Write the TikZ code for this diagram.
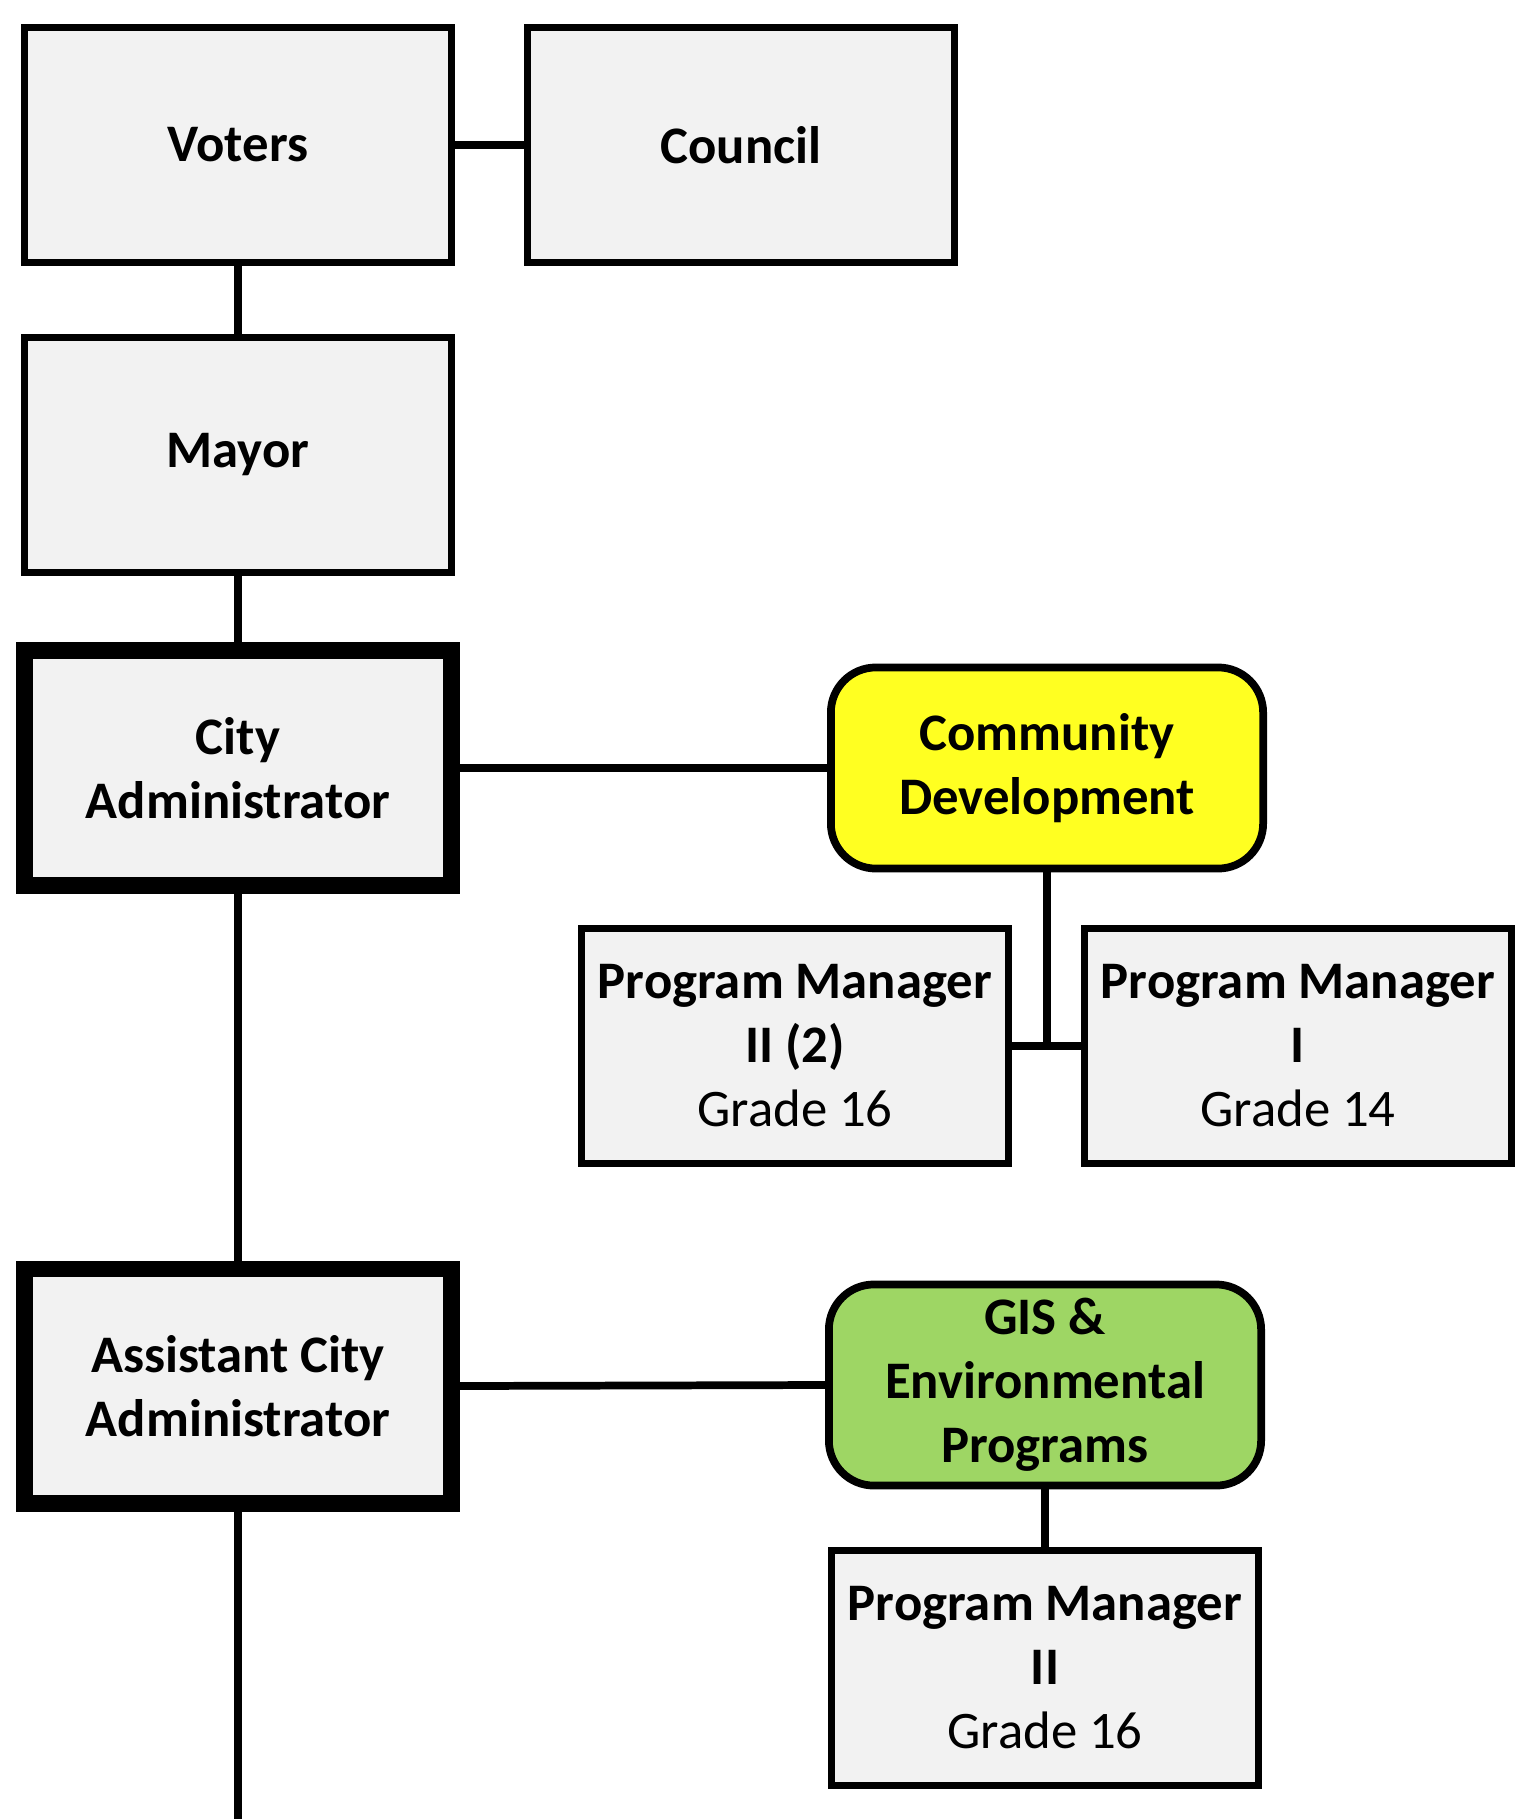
\documentclass[tikz,border=0pt]{standalone}
\usepackage{fontspec}
\setmainfont{Carlito}
\definecolor{boxgray}{RGB}{242,242,242}
\definecolor{cdyellow}{RGB}{255,255,33}
\definecolor{gisgreen}{RGB}{158,214,100}

\begin{document}
\begin{tikzpicture}[x=0.01cm, y=-0.01cm,
    box/.style={draw, line width=2pt, fill=boxgray, minimum width=42.7mm,
      minimum height=23.5mm, align=center, font=\fontsize{15}{18.2}\selectfont\bfseries},
    chief/.style={box, line width=4.8pt, minimum width=42.6mm, minimum height=23.4mm},
    dept/.style={box, line width=2.2pt, rounded corners=4.5mm, minimum width=43.2mm,
      minimum height=20.1mm},
    link/.style={line width=2.2pt}]
  \useasboundingbox (0,0) rectangle (1528,1819);
  \node[box] (voters) at (238,145) {Voters};
  \node[box] (council) at (741,145) {Council};
  \node[box] (mayor) at (238,455) {Mayor};
  \node[chief] (cityadm) at (238,768) {City\\Administrator};
  \node[dept, fill=cdyellow] (commdev) at (1047,768) {Community\\Development};
  \node[box] (pmtwo) at (795,1046) {Program Manager\\II (2)\\{\mdseries Grade 16}};
  \node[box] (pmone) at (1298,1046) {Program Manager\\I\\{\mdseries Grade 14}};
  \node[chief] (asstadm) at (238,1386) {Assistant City\\Administrator};
  \node[dept, fill=gisgreen] (gis) at (1045,1385) {GIS \&\\Environmental\\Programs};
  \node[box] (pmgis) at (1045,1668) {Program Manager\\II\\{\mdseries Grade 16}};
  \coordinate (bottom) at (238,1819);
  % connectors
  \draw[link] (voters.east) -- (council.west);
  \draw[link] (voters.south) -- (mayor.north);
  \draw[link] (mayor.south) -- (cityadm.north);
  \draw[link] (cityadm.south) -- (asstadm.north);
  \draw[link] (asstadm.south) -- (bottom);
  \draw[link] (cityadm.east) -- (commdev.west);
  \draw[link] (commdev.south) -- (commdev.south |- pmtwo.east);
  \draw[link] (pmtwo.east) -- (pmone.west);
  \draw[link] (asstadm.east) -- (gis.west);
  \draw[link] (gis.south) -- (pmgis.north);
\end{tikzpicture}
\end{document}
